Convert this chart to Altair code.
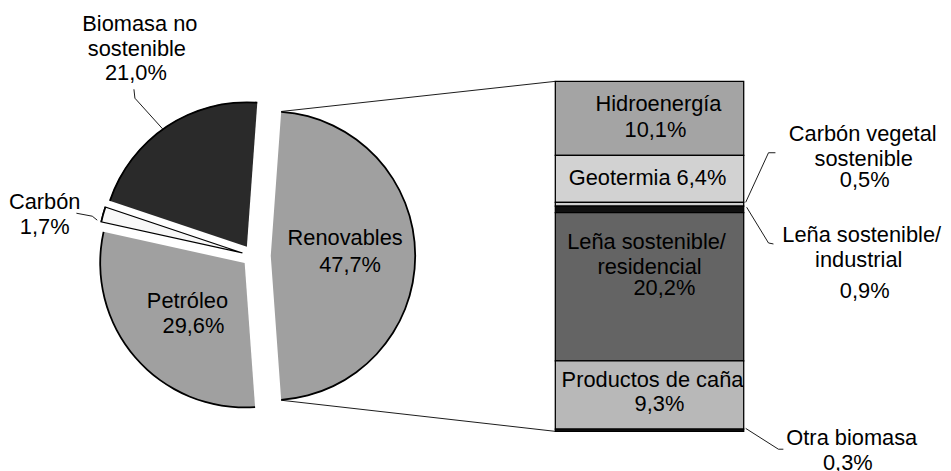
import math
import altair as alt
import pandas as pd

# ---------------- data ----------------
pie_labels = ["Renovables", "Petróleo", "Carbón", "Biomasa no sostenible"]
pie_values = [47.7, 29.6, 1.7, 21.0]
pie_colors = ["#a0a0a0", "#a0a0a0", "#f8f8f8", "#2a2a2a"]

bar_labels = ["Hidroenergía", "Geotermia", "Carbón vegetal sostenible",
              "Leña sostenible/industrial", "Leña sostenible/residencial",
              "Productos de caña", "Otra biomasa"]
bar_values = [10.1, 6.4, 0.5, 0.9, 20.2, 9.3, 0.3]
bar_colors = ["#a4a4a4", "#d2d2d2", "#d0d0d0", "#111111", "#646464", "#b8b8b8", "#111111"]

label_lines = ["Biomasa no", "sostenible", "21,0%", "Carbón", "1,7%",
               "Petróleo", "29,6%", "Renovables", "47,7%",
               "Hidroenergía", "10,1%", "Geotermia 6,4%",
               "Leña sostenible/", "residencial", "20,2%",
               "Productos de caña", "9,3%",
               "Carbón vegetal", "sostenible", "0,5%",
               "Leña sostenible/", "industrial", "0,9%",
               "Otra biomasa", "0,3%"]

# ---------------- layout ----------------
W, H = 943, 463
CX0, CY0 = 247, 248          # pie centre (px)
R = 146                      # pie radius (px)
EXPLODE = [18, 11, 11, 11]
BAR_X0, BAR_X1 = 552, 742
BAR_Y0, BAR_Y1 = 72, 425

label_x = [133, 130, 129, 37, 37, 181, 187, 340, 345, 656, 653, 645,
           644, 647, 662, 650, 657, 862, 863, 864, 861, 858, 864, 851, 847]
label_y = [14, 39, 64, 194, 219, 294, 319, 230, 257, 95, 121, 170,
           234, 259, 280, 373, 397, 125, 150, 172, 227, 252, 284, 432, 457]

leaders = {
    "bio": [(127, 80), (128, 89), (156, 120)],
    "car": [(69, 205), (85, 208), (90, 212)],
    "cv": [(744, 194), (767, 144), (774, 144)],
    "li": [(745, 199), (767, 235), (772, 236)],
    "ob": [(744, 422), (777, 443), (782, 443)],
}

# ---------------- derived ----------------
total = sum(pie_values)
start = math.radians(90 - pie_values[0] / total * 360 / 2)
rows = []
cum = 0.0
for i, (lab, v) in enumerate(zip(pie_labels, pie_values)):
    t0, t1 = cum, cum + v
    mid = start + (t0 + t1) / 2 / total * 2 * math.pi
    rows.append(dict(label=lab, t0=t0, t1=t1, idx=i,
                     cx=CX0 + EXPLODE[i] * math.sin(mid),
                     cy=CY0 - EXPLODE[i] * math.cos(mid),
                     sw=1.2 if lab == "Carbón" else 0))
    cum = t1
pie_df = pd.DataFrame(rows)

theta_scale = alt.Scale(domain=[0, total], range=[start, start + 2 * math.pi])
color_scale = alt.Scale(domain=pie_labels, range=pie_colors)

pie_enc = dict(
    theta=alt.Theta("t0:Q", scale=theta_scale),
    theta2="t1:Q",
    x=alt.X("cx:Q", scale=None),
    y=alt.Y("cy:Q", scale=None),
)
pie = alt.Chart(pie_df).mark_arc(radius=R, stroke="black").encode(
    color=alt.Color("label:N", scale=color_scale, legend=None),
    strokeWidth=alt.StrokeWidth("sw:Q", scale=None),
    **pie_enc)
ring = alt.Chart(pie_df).mark_arc(radius=R + 0.6, radius2=R - 1.2, color="black").encode(**pie_enc)

# connector lines from Renovables to bar
ren = rows[0]
a0 = start
a1 = start + pie_values[0] / total * 2 * math.pi
conn_df = pd.DataFrame([
    dict(x=ren["cx"] + R * math.sin(a0), y=ren["cy"] - R * math.cos(a0), x2=BAR_X0, y2=BAR_Y0),
    dict(x=ren["cx"] + R * math.sin(a1), y=ren["cy"] - R * math.cos(a1), x2=BAR_X0, y2=BAR_Y1),
])
conn = alt.Chart(conn_df).mark_rule(color="black", strokeWidth=0.9).encode(
    x=alt.X("x:Q", scale=None), y=alt.Y("y:Q", scale=None),
    x2="x2:Q", y2="y2:Q")

# stacked bar (stack transform + linear y scale)
bar_df = pd.DataFrame(dict(label=bar_labels, value=bar_values, idx=range(len(bar_labels))))
bar = alt.Chart(bar_df).transform_stack(
    stack="value", groupby=[], as_=["s0", "s1"], sort=[alt.SortField("idx", order="ascending")]
).mark_rect(stroke="black", strokeWidth=1.3).encode(
    x=alt.value(BAR_X0), x2=alt.value(BAR_X1),
    y=alt.Y("s0:Q",
            scale=alt.Scale(domain=[0, sum(bar_values)], range=[BAR_Y0, BAR_Y1], nice=False, zero=False),
            axis=None),
    y2="s1:Q",
    color=alt.Color("label:N", scale=alt.Scale(domain=bar_labels, range=bar_colors), legend=None),
)

# leader lines
lead_rows = []
for k, pts in leaders.items():
    for j, (px, py) in enumerate(pts):
        lead_rows.append(dict(g=k, s=j, x=px, y=py))
lead_df = pd.DataFrame(lead_rows)
lead = alt.Chart(lead_df).mark_line(color="black", strokeWidth=0.9).encode(
    x=alt.X("x:Q", scale=None), y=alt.Y("y:Q", scale=None),
    detail="g:N", order="s:Q")

# labels
txt_df = pd.DataFrame(dict(t=label_lines, x=label_x, y=label_y))
txt = alt.Chart(txt_df).mark_text(font="Liberation Sans", fontSize=22, color="black",
                                  align="center", baseline="middle").encode(
    x=alt.X("x:Q", scale=None), y=alt.Y("y:Q", scale=None), text="t:N")

chart = alt.layer(conn, pie, ring, bar, lead, txt).resolve_scale(
    x="independent", y="independent", color="independent"
).properties(
    width=W, height=H, autosize="none", padding=0
).configure_view(strokeWidth=0)

chart.save("out.html", embed_options={"renderer": "svg", "actions": False})
